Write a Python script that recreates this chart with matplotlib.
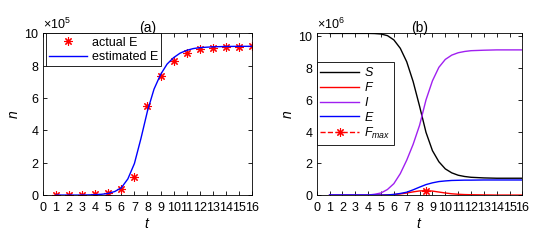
import numpy as np
import matplotlib
matplotlib.use("Agg")
import matplotlib.pyplot as plt
from matplotlib.ticker import ScalarFormatter

plt.rcParams["font.family"] = ["Liberation Sans", "DejaVu Sans"]
plt.rcParams["mathtext.fontset"] = "custom"
plt.rcParams["mathtext.it"] = "Liberation Sans:italic"
plt.rcParams["mathtext.rm"] = "Liberation Sans"

# ---- panel (a): actual vs estimated E (x1e5) ----
t_obs = [1, 2, 3, 4, 5, 6, 7, 8, 9, 10, 11, 12, 13, 14, 15, 16]
E_obs = [0, 0, 0.02, 0.08, 0.15, 0.35, 1.12, 5.48, 7.38, 8.32, 8.78, 9.06, 9.12, 9.18, 9.18, 9.2]

t_est = [1, 2, 3, 4, 4.5, 5, 5.5, 6, 6.5, 7, 7.5, 8, 8.5, 9, 9.5, 10, 10.5, 11, 11.5, 12, 13, 14, 15, 16]
E_est = [0, 0, 0, 0.02, 0.05, 0.1, 0.22, 0.45, 1.0, 1.95, 3.5, 5.2, 6.55, 7.45, 8.1, 8.5, 8.78, 8.95, 9.06, 9.12, 9.17, 9.19, 9.2, 9.2]

# ---- panel (b): model compartments (x1e6) ----
t_mod = [1, 2, 3, 4, 4.5, 5, 5.5, 6, 6.5, 7, 7.5, 8, 8.5, 9, 9.5, 10, 10.5, 11, 11.5, 12, 13, 14, 15, 16]
S = [10.19, 10.19, 10.19, 10.19, 10.18, 10.15, 10.05, 9.78, 9.25, 8.4, 7.15, 5.6, 3.95, 2.8, 2.1, 1.65, 1.4, 1.25, 1.17, 1.12, 1.08, 1.06, 1.06, 1.06]
F = [0, 0, 0, 0, 0, 0, 0.01, 0.03, 0.07, 0.13, 0.2, 0.26, 0.28, 0.25, 0.19, 0.13, 0.08, 0.05, 0.03, 0.02, 0.01, 0, 0, 0]
I = [0, 0, 0, 0, 0.05, 0.13, 0.35, 0.72, 1.35, 2.2, 3.2, 4.4, 6.0, 7.2, 8.05, 8.55, 8.82, 8.97, 9.05, 9.1, 9.13, 9.15, 9.15, 9.15]
E = [0, 0, 0, 0, 0, 0, 0.01, 0.04, 0.1, 0.18, 0.33, 0.5, 0.66, 0.77, 0.85, 0.89, 0.92, 0.93, 0.94, 0.94, 0.95, 0.95, 0.95, 0.95]
t_fmax = 8.5
F_max = 0.28

ast = (8, 2, 0)


def style_axes(ax, power):
    ax.set_xlim(0, 16)
    ax.set_xticks(range(17))
    ax.tick_params(direction="in", top=True, right=True, labelsize=9, length=3, width=0.6)
    ax.tick_params(axis="x", pad=5)
    ax.tick_params(axis="y", pad=2.5)
    for s in ax.spines.values():
        s.set_linewidth(0.6)
    fmt = ScalarFormatter(useMathText=True)
    fmt.set_powerlimits((power, power))
    ax.yaxis.set_major_formatter(fmt)
    ax.yaxis.get_offset_text().set_fontsize(9)
    ax.set_xlabel("$t$", fontsize=10, labelpad=2)
    ax.set_ylabel("$n$", fontsize=10, labelpad=2)


fig = plt.figure(figsize=(5.4, 2.42), dpi=100)
ax1 = fig.add_axes([0.0796, 0.194, 0.387, 0.668])
ax2 = fig.add_axes([0.5865, 0.194, 0.381, 0.668])

# (a)
ax1.plot(t_obs, np.array(E_obs) * 1e5, linestyle="none", marker=ast, color="red",
         markersize=6, markeredgewidth=0.8, label="actual E")
ax1.plot(t_est, np.array(E_est) * 1e5, color="blue", linewidth=1.0, label="estimated E")
ax1.set_ylim(0, 10e5)
ax1.set_yticks([0, 2e5, 4e5, 6e5, 8e5, 10e5])
style_axes(ax1, 5)
ax1.set_title("(a)", fontsize=10, pad=1)
leg = ax1.legend(loc="upper left", bbox_to_anchor=(0.015, 1.0), fontsize=9, fancybox=False,
                 edgecolor="black", framealpha=1, borderpad=0.25, handlelength=3.0,
                 handletextpad=0.4, labelspacing=0.2, borderaxespad=0)
leg.get_frame().set_linewidth(0.6)

# (b)
ax2.plot(t_mod, np.array(S) * 1e6, color="black", linewidth=1.0, label="$S$")
ax2.plot(t_mod, np.array(F) * 1e6, color="red", linewidth=1.0, label="$F$")
ax2.plot(t_mod, np.array(I) * 1e6, color="#a020f0", linewidth=1.0, label="$I$")
ax2.plot(t_mod, np.array(E) * 1e6, color="blue", linewidth=1.0, label="$E$")
ax2.plot([t_fmax], [F_max * 1e6], color="red", linestyle="--", linewidth=1.0, marker=ast,
         markersize=6, markeredgewidth=0.8, label="$F_{max}$")
ax2.set_ylim(0, 10.19e6)
ax2.set_yticks([0, 2e6, 4e6, 6e6, 8e6, 10e6])
style_axes(ax2, 6)
ax2.set_title("(b)", fontsize=10, pad=1)
leg2 = ax2.legend(loc="upper left", bbox_to_anchor=(0.0, 0.82), fontsize=9, fancybox=False,
                  edgecolor="black", framealpha=1, borderpad=0.3, handlelength=3.1,
                  handletextpad=0.4, labelspacing=0.15, borderaxespad=0)
leg2.get_frame().set_linewidth(0.6)

fig.savefig("out.png", dpi=100)
